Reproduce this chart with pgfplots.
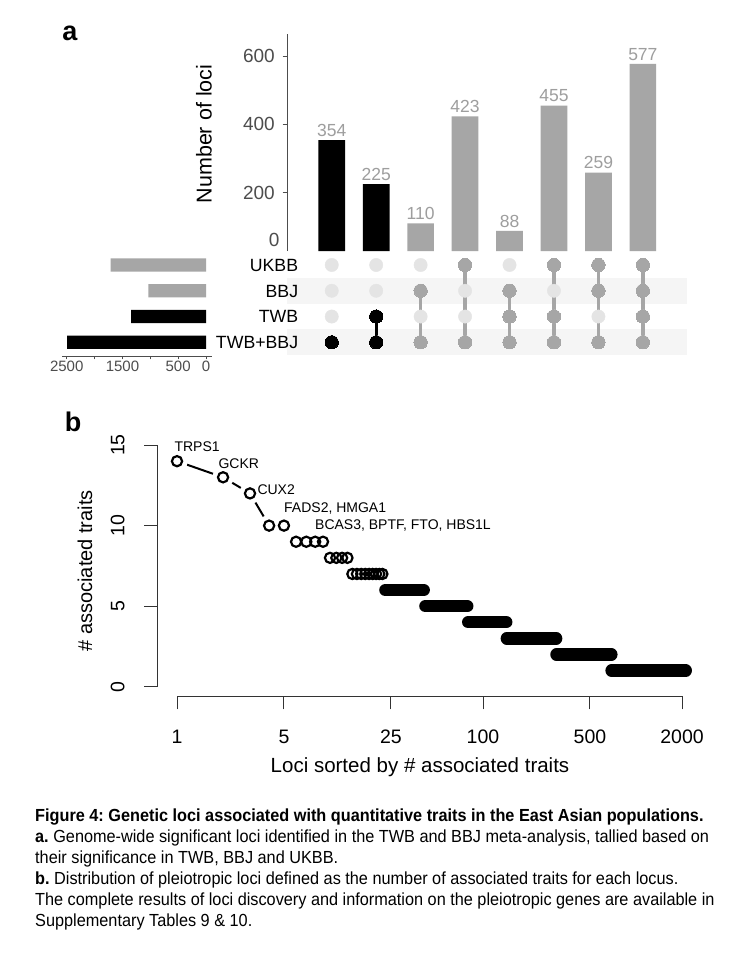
\documentclass[border=0pt]{standalone}
\usepackage{pgfplots}
\pgfplotsset{compat=1.18}
\usepackage{fontspec}
\setmainfont{Liberation Sans}
\newfontfamily\capfont[FakeStretch=0.93]{Liberation Sans}
\definecolor{bargray}{RGB}{166,166,166}
\definecolor{dotoff}{RGB}{228,228,228}
\definecolor{band}{RGB}{245,245,245}
\definecolor{numgray}{RGB}{158,158,158}
\definecolor{axgray}{RGB}{77,77,77}
\newcommand{\fs}[1]{\fontsize{#1bp}{#1bp}\selectfont}
\pgfplotsset{/pgf/number format/assume math mode=true}
\frenchspacing
\begin{document}
\begin{tikzpicture}
\useasboundingbox (0,0) rectangle (750bp,-971bp);
\fill[white] (0,0) rectangle (750bp,-971bp);

% ---------- panel a: intersection bars ----------
\begin{axis}[
  at={(287.3bp,-251bp)}, anchor=south west, scale only axis,
  width=400bp, height=217bp,
  xmin=0, xmax=9, ymin=29.3, ymax=664.3,
  axis x line=none, axis y line*=left,
  axis line style={axgray, line width=0.9bp},
  ytick={200,400,600},
  extra y ticks={61.5}, extra y tick labels={0},
  extra y tick style={major tick length=0pt},
  tick align=outside, major tick length=4.7bp,
  tick style={axgray, line width=0.9bp},
  yticklabel style={font=\fs{19}, text=axgray, anchor=east, inner sep=0pt},
  yticklabel shift=7.6bp,
  nodes near coords style={font=\fs{17.5}, text=numgray},
]
\addplot[ybar, bar width=26.7bp, bar shift=0pt, fill=black, draw=none, nodes near coords]
  coordinates {(1,354) (2,225)};
\addplot[ybar, bar width=26.7bp, bar shift=0pt, fill=bargray, draw=none, nodes near coords]
  coordinates {(3,110) (4,423) (5,88) (6,455) (7,259) (8,577)};
\end{axis}

% ---------- panel a: matrix ----------
\begin{axis}[
  at={(287.3bp,-355.2bp)}, anchor=south west, scale only axis,
  width=400bp, height=103.1bp,
  xmin=0, xmax=9, ymin=0.5, ymax=4.5, hide axis, clip=false,
]
\fill[band] (axis cs:0,2.5) rectangle (axis cs:9,3.5);
\fill[band] (axis cs:0,0.5) rectangle (axis cs:9,1.5);
\addplot[dotoff, only marks, mark=*, mark size=6.65bp] coordinates {
 (1,1)(1,2)(1,3)(1,4)(2,1)(2,2)(2,3)(2,4)(3,1)(3,2)(3,3)(3,4)(4,1)(4,2)(4,3)(4,4)
 (5,1)(5,2)(5,3)(5,4)(6,1)(6,2)(6,3)(6,4)(7,1)(7,2)(7,3)(7,4)(8,1)(8,2)(8,3)(8,4)};
\addplot[black, line width=3.3bp, mark=*, mark size=6.65bp, mark options={line width=0pt}] coordinates {(1,1)};
\addplot[black, line width=3.3bp, mark=*, mark size=6.65bp, mark options={line width=0pt}] coordinates {(2,2)(2,1)};
\addplot[bargray, line width=3.3bp, mark=*, mark size=6.65bp, mark options={line width=0pt}] coordinates {(3,3)(3,1)};
\addplot[bargray, line width=3.3bp, mark=*, mark size=6.65bp, mark options={line width=0pt}] coordinates {(4,4)(4,1)};
\addplot[bargray, line width=3.3bp, mark=*, mark size=6.65bp, mark options={line width=0pt}] coordinates {(5,3)(5,2)(5,1)};
\addplot[bargray, line width=3.3bp, mark=*, mark size=6.65bp, mark options={line width=0pt}] coordinates {(6,4)(6,2)(6,1)};
\addplot[bargray, line width=3.3bp, mark=*, mark size=6.65bp, mark options={line width=0pt}] coordinates {(7,4)(7,3)(7,1)};
\addplot[bargray, line width=3.3bp, mark=*, mark size=6.65bp, mark options={line width=0pt}] coordinates {(8,4)(8,3)(8,2)(8,1)};
\end{axis}

% ---------- panel a: set sizes ----------
\begin{axis}[
  at={(136.65bp,-304.05bp)}, anchor=center, scale only axis,
  width=149.9bp, height=103.9bp,
  x dir=reverse, xmin=-100, xmax=2590, ymin=0.468, ymax=4.5,
  axis y line=none, axis x line*=bottom,
  axis line style={axgray, line width=0.9bp},
  xtick={0,500,1000,1500,2000,2500}, xticklabels={0,500,,1500,,2500},
  tick align=outside, major tick length=3.3bp,
  tick style={axgray, line width=0.9bp},
  xticklabel style={font=\fs{15}, text=axgray, anchor=north, inner sep=0pt},
  xticklabel shift=1.3bp,
]
\addplot[xbar, bar width=13.3bp, bar shift=0pt, fill=bargray, draw=none] coordinates {(1714,4) (1034,3)};
\addplot[xbar, bar width=13.3bp, bar shift=0pt, fill=black, draw=none] coordinates {(1345,2) (2491,1)};
\end{axis}

\node[anchor=east, inner sep=0pt, font=\fs{17.7}] at (298.3bp,-265bp) {UKBB};
\node[anchor=east, inner sep=0pt, font=\fs{17.7}] at (298.3bp,-291bp) {BBJ};
\node[anchor=east, inner sep=0pt, font=\fs{17.7}] at (298.3bp,-316.7bp) {TWB};
\node[anchor=east, inner sep=0pt, font=\fs{17.7}] at (298.3bp,-342.3bp) {TWB+BBJ};
\node[rotate=90, font=\fs{21.5}] at (204bp,-134bp) {Number of loci};
\node[font=\fs{27}\bfseries] at (70bp,-33bp) {a};

% ---------- panel b ----------
\begin{axis}[
  at={(157.3bp,-696.4bp)}, anchor=south west, scale only axis,
  width=549bp, height=261bp,
  xmode=log, xmin=0.7434, xmax=2881, ymin=-0.6, ymax=15.6,
  axis x line*=bottom, axis y line*=left, axis line style={draw=none},
  xtick={1,5,25,100,500,2000}, xticklabels={1,5,25,100,500,2000},
  xminorticks=false,
  ytick={0,5,10,15}, yticklabels={0,5,10,15},
  tick align=outside, major tick length=13bp,
  tick style={black!80, line width=1bp},
  xticklabel style={font=\fs{19.5}, anchor=north, inner sep=0pt},
  xticklabel shift=20.3bp,
  yticklabel style={font=\fs{19.5}, rotate=90, anchor=south, inner sep=0pt},
  yticklabel shift=19.5bp,
  clip=false,
]
\draw[black!80, line width=1bp] (axis cs:1,-0.6) -- (axis cs:2000,-0.6);
\draw[black!80, line width=1bp] (axis cs:0.7434,0) -- (axis cs:0.7434,15);
\addplot[black, line width=2bp, mark=none] coordinates {(1,14) (2,13) (3,12) (4,10) (5,10)};
\addplot[white, only marks, mark=*, mark size=10.5bp]
  coordinates {(1,14) (2,13) (3,12) (4,10) (5,10)};
\addplot[black, only marks, mark=o, mark size=5.1bp, mark options={line width=2.2bp}] coordinates {
 (1,14) (2,13) (3,12) (4,10) (5,10) (6,9) (7,9) (8,9) (9,9)
 (10,8) (11,8) (12,8) (13,8)
 (14,7) (15,7) (16,7) (17,7) (18,7) (19,7) (20,7) (21,7) (22,7)};
\addplot[black, line width=12.3bp, line cap=round, mark=none] coordinates {(23,6) (41,6)};
\addplot[black, line width=12.3bp, line cap=round, mark=none] coordinates {(42,5) (79,5)};
\addplot[black, line width=12.3bp, line cap=round, mark=none] coordinates {(80,4) (142,4)};
\addplot[black, line width=12.3bp, line cap=round, mark=none] coordinates {(143,3) (301,3)};
\addplot[black, line width=12.3bp, line cap=round, mark=none] coordinates {(302,2) (691,2)};
\addplot[black, line width=12.3bp, line cap=round, mark=none] coordinates {(692,1) (2116,1)};
\end{axis}

\node[anchor=base west, inner sep=0pt, font=\fs{14}] at (174.3bp,-451.6bp) {TRPS1};
\node[anchor=base west, inner sep=0pt, font=\fs{14}] at (218.3bp,-468.2bp) {GCKR};
\node[anchor=base west, inner sep=0pt, font=\fs{14}] at (257.3bp,-494.9bp) {CUX2};
\node[anchor=base west, inner sep=0pt, font=\fs{14}] at (284bp,-512.2bp) {FADS2, HMGA1};
\node[anchor=base west, inner sep=0pt, font=\fs{14}] at (315bp,-529.2bp) {BCAS3, BPTF, FTO, HBS1L};
\node[rotate=90, font=\fs{20}] at (85bp,-570.8bp) {\# associated traits};
\node[font=\fs{20.5}] at (420bp,-767bp) {Loci sorted by \# associated traits};
\node[font=\fs{27}\bfseries] at (73bp,-422bp) {b};

% ---------- caption ----------
\begin{scope}[every node/.style={anchor=base west, inner sep=0pt, font=\capfont\fs{17.5}}]
\node at (35bp,-821.7bp) {\textbf{Figure 4: Genetic loci associated with quantitative traits in the East Asian populations.}};
\node at (35bp,-842.7bp) {\textbf{a.} Genome-wide significant loci identified in the TWB and BBJ meta-analysis, tallied based on};
\node at (35bp,-863.7bp) {their significance in TWB, BBJ and UKBB.};
\node at (35bp,-884.7bp) {\textbf{b.} Distribution of pleiotropic loci defined as the number of associated traits for each locus.};
\node at (35bp,-905.7bp) {The complete results of loci discovery and information on the pleiotropic genes are available in};
\node at (35bp,-926.7bp) {Supplementary Tables 9 \& 10.};
\end{scope}
\end{tikzpicture}
\end{document}
